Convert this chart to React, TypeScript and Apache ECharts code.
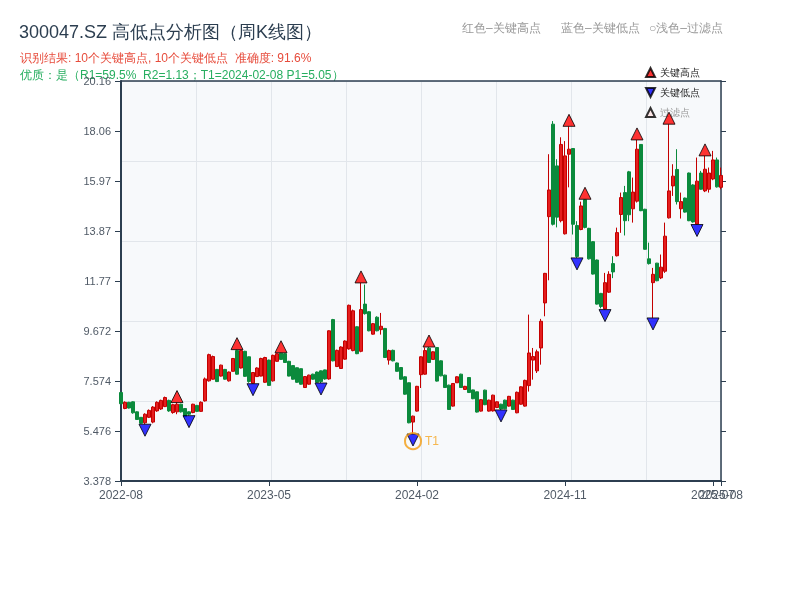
import React, { useEffect, useRef } from 'react';
import * as echarts from 'echarts';

const dates = [
  '2022-08-26','2022-09-02','2022-09-09','2022-09-16','2022-09-23','2022-09-30','2022-10-14','2022-10-21','2022-10-28','2022-11-04',
  '2022-11-11','2022-11-18','2022-11-25','2022-12-02','2022-12-09','2022-12-16','2022-12-23','2022-12-30','2023-01-06','2023-01-13',
  '2023-01-20','2023-02-03','2023-02-10','2023-02-17','2023-02-24','2023-03-03','2023-03-10','2023-03-17','2023-03-24','2023-03-31',
  '2023-04-07','2023-04-14','2023-04-21','2023-04-28','2023-05-05','2023-05-12','2023-05-19','2023-05-26','2023-06-02','2023-06-09',
  '2023-06-16','2023-06-21','2023-06-30','2023-07-07','2023-07-14','2023-07-21','2023-07-28','2023-08-04','2023-08-11','2023-08-18',
  '2023-08-25','2023-09-01','2023-09-08','2023-09-15','2023-09-22','2023-09-28','2023-10-13','2023-10-20','2023-10-27','2023-11-03',
  '2023-11-10','2023-11-17','2023-11-24','2023-12-01','2023-12-08','2023-12-15','2023-12-22','2023-12-29','2024-01-05','2024-01-12',
  '2024-01-19','2024-01-26','2024-02-02','2024-02-08','2024-02-23','2024-03-01','2024-03-08','2024-03-15','2024-03-22','2024-03-29',
  '2024-04-03','2024-04-12','2024-04-19','2024-04-26','2024-04-30','2024-05-10','2024-05-17','2024-05-24','2024-05-31','2024-06-07',
  '2024-06-14','2024-06-21','2024-06-28','2024-07-05','2024-07-12','2024-07-19','2024-07-26','2024-08-02','2024-08-09','2024-08-16',
  '2024-08-23','2024-08-30','2024-09-06','2024-09-13','2024-09-20','2024-09-27','2024-09-30','2024-10-11','2024-10-18','2024-10-25',
  '2024-11-01','2024-11-08','2024-11-15','2024-11-22','2024-11-29','2024-12-06','2024-12-13','2024-12-20','2024-12-27','2025-01-03',
  '2025-01-10','2025-01-17','2025-01-24','2025-01-27','2025-02-07','2025-02-14','2025-02-21','2025-02-28','2025-03-07','2025-03-14',
  '2025-03-21','2025-03-28','2025-04-03','2025-04-11','2025-04-18','2025-04-25','2025-04-30','2025-05-09','2025-05-16','2025-05-23',
  '2025-05-30','2025-06-06','2025-06-13','2025-06-20','2025-06-27','2025-07-04','2025-07-11','2025-07-18','2025-07-25','2025-08-01',
  '2025-08-08'
];

const openP = [
  7.09,6.42,6.68,6.70,6.28,6.05,5.82,6.05,5.85,6.32,
  6.40,6.50,6.76,6.25,6.28,6.60,6.42,6.28,6.25,6.55,
  6.30,6.74,7.58,7.65,8.06,7.78,8.06,7.58,7.98,8.85,
  8.12,8.82,8.59,7.48,7.76,7.78,7.52,8.45,7.58,8.40,
  8.74,8.72,8.40,8.22,8.13,8.09,7.30,7.44,7.86,7.95,
  8.00,8.04,7.66,10.15,8.18,8.10,8.49,8.92,8.85,9.85,
  8.82,10.80,10.48,9.54,10.25,9.73,9.78,8.45,8.86,8.33,
  8.14,7.75,7.50,5.85,6.31,7.84,7.86,8.95,8.48,8.98,
  8.42,7.82,7.40,6.52,7.50,7.86,7.22,7.72,7.20,7.12,
  6.31,7.19,6.31,6.32,6.46,6.60,6.77,6.52,6.77,6.24,
  6.60,6.52,7.38,8.45,8.00,8.96,10.85,14.47,18.35,16.60,
  14.30,13.75,17.09,17.33,14.10,13.93,15.18,13.98,13.42,12.65,
  11.25,10.60,11.30,12.50,12.83,14.56,15.48,16.35,14.80,15.12,
  17.50,14.78,12.70,11.70,12.52,11.90,12.18,14.42,15.76,16.45,
  14.80,15.25,16.30,15.80,14.16,16.30,15.55,15.62,16.05,16.85,
  15.70
];

const closeP = [
  6.62,6.68,6.44,6.24,5.96,5.80,6.18,6.34,6.48,6.68,
  6.76,6.88,6.32,6.58,6.60,6.28,6.08,6.18,6.60,6.30,
  6.68,7.66,8.68,8.60,7.55,8.24,7.65,7.95,8.52,7.86,
  8.85,7.77,7.55,7.93,8.12,8.52,8.56,7.39,8.65,8.72,
  8.48,8.35,7.78,7.65,7.52,7.44,7.76,7.82,7.65,7.52,
  7.55,7.66,9.68,8.42,8.86,9.00,9.25,10.75,10.52,8.72,
  10.57,10.40,9.68,9.98,9.68,9.87,8.56,8.85,8.42,7.98,
  7.65,7.02,5.82,6.10,7.35,8.59,8.85,8.35,8.80,7.57,
  7.79,7.30,6.38,7.47,7.75,7.30,7.35,7.09,6.83,6.27,
  6.79,6.58,6.77,6.98,6.70,6.40,6.41,6.93,6.38,7.10,
  7.33,7.60,8.75,8.60,8.80,10.08,12.09,15.59,14.15,14.45,
  17.50,17.02,17.30,14.15,12.80,14.92,14.02,12.70,12.06,10.80,
  10.70,11.70,12.05,12.15,13.80,15.27,14.30,14.55,15.50,17.30,
  14.72,13.10,12.50,12.05,11.78,12.35,13.65,15.55,16.17,15.10,
  15.10,14.66,14.30,14.25,15.96,15.62,16.46,16.30,16.85,15.72,
  16.20
];

const lowP = [
  6.60,6.39,6.42,6.20,5.94,5.78,5.76,6.02,5.80,6.28,
  6.36,6.48,6.28,6.20,6.18,6.25,6.14,6.12,6.22,6.28,
  6.28,6.71,7.55,7.63,7.53,7.76,7.63,7.55,7.97,7.84,
  8.10,7.75,7.50,7.46,7.74,7.77,7.50,7.37,7.55,8.38,
  8.47,8.33,7.77,7.63,7.50,7.42,7.28,7.42,7.63,7.50,
  7.49,7.63,7.63,8.40,8.16,8.08,8.47,8.89,8.82,8.70,
  8.78,10.36,9.66,9.52,9.66,9.52,8.54,8.26,8.40,7.97,
  7.63,7.00,5.80,5.35,6.29,7.28,7.84,8.33,8.47,7.55,
  7.77,7.28,6.36,6.50,7.49,7.28,7.21,7.07,6.81,6.25,
  6.29,6.56,6.29,6.29,6.44,6.36,6.39,6.50,6.36,6.22,
  6.58,6.50,7.13,7.63,7.91,8.26,10.29,11.80,14.10,14.02,
  14.23,13.72,15.70,13.72,12.74,13.90,13.98,12.67,12.04,10.78,
  10.62,10.57,11.27,11.89,12.80,13.79,13.68,14.28,14.22,15.06,
  14.70,13.09,12.46,10.22,11.76,11.85,12.11,14.39,15.34,14.98,
  14.39,14.64,14.28,14.22,14.14,15.60,15.50,15.48,16.00,15.69,
  15.62
];

const highP = [
  7.12,6.72,6.70,6.72,6.30,6.06,6.22,6.38,6.52,6.72,
  6.79,6.92,6.79,6.62,6.67,6.62,6.44,6.30,6.62,6.57,
  6.72,7.72,8.72,8.64,8.08,8.26,8.08,7.97,8.54,8.89,
  8.87,8.84,8.60,7.95,8.15,8.55,8.59,8.47,8.68,8.74,
  8.76,8.74,8.42,8.24,8.14,8.10,7.78,7.84,7.88,7.97,
  8.02,8.05,9.70,10.18,8.89,9.03,9.28,10.78,10.57,9.87,
  11.69,11.62,10.50,10.01,10.29,10.43,9.80,8.89,8.89,8.35,
  8.16,7.77,7.51,6.12,7.37,8.61,8.98,9.00,8.82,8.98,
  8.44,7.84,7.42,7.49,7.77,7.88,7.37,7.74,7.21,7.13,
  6.81,7.21,6.79,7.00,6.72,6.62,6.79,6.95,6.79,7.13,
  7.35,7.63,10.36,8.96,8.89,10.18,12.11,17.09,18.48,16.88,
  17.80,17.64,18.26,17.33,14.28,15.10,15.20,14.00,13.44,12.67,
  11.27,12.11,12.18,12.81,14.01,15.48,15.76,16.39,16.11,17.69,
  17.51,14.80,13.38,12.32,12.53,12.88,14.22,18.35,16.67,17.30,
  15.48,15.27,16.32,15.83,16.95,16.39,17.02,16.53,17.23,16.95,
  16.53
];

const keyHighIdx = [14, 29, 40, 60, 77, 112, 116, 129, 137, 146];
const keyLowIdx = [6, 17, 33, 50, 73, 95, 114, 121, 133, 144];
const t1Idx = 73;
const p1Value = 5.05;

const yTickLabels = ['3.378', '5.476', '7.574', '9.672', '11.77', '13.87', '15.97', '18.06', '20.16'];
const yMin = 3.378;
const yMax = 20.162;
const xLabelIdx = [0, 37, 74, 111, 148];
const xLastIdx = 150;

const titleText = '300047.SZ 高低点分析图（周K线图）';
const line1 = '识别结果: 10个关键高点, 10个关键低点  准确度: 91.6%';
const line2 = '优质：是（R1=59.5%  R2=1.13；T1=2024-02-08 P1=5.05）';

export default function App() {
  const ref = useRef<HTMLDivElement>(null);
  useEffect(() => {
    const chart = echarts.init(ref.current as HTMLDivElement, null, { renderer: 'svg' });
    const candles = dates.map((_, i) => [openP[i], closeP[i], lowP[i], highP[i]]);
    const highPts = keyHighIdx.map((i) => [i, highP[i]]);
    const lowPts = keyLowIdx.map((i) => [i, lowP[i]]);
    const showIdx = (i: number) => xLabelIdx.indexOf(i) >= 0;
    const axisColor = '#2c3e50';
    const gridLine = '#e2e6eb';
    const labelColor = '#505a66';
    const option: any = {
      animation: false,
      title: {
        text: titleText,
        left: 14,
        top: 18,
        textStyle: { fontSize: 18, fontWeight: 'normal', color: '#2c3e50' },
      },
      graphic: [
        { type: 'text', left: 20, top: 52, style: { text: line1, fill: '#e74c3c', fontSize: 12 } },
        { type: 'text', left: 20, top: 69, style: { text: line2, fill: '#27ae60', fontSize: 12 } },
        { type: 'text', left: 462, top: 22, style: { text: '红色–关键高点', fill: '#999', fontSize: 12 } },
        { type: 'text', left: 561, top: 22, style: { text: '蓝色–关键低点', fill: '#999', fontSize: 12 } },
        { type: 'text', left: 649, top: 22, style: { text: '○浅色–过滤点', fill: '#999', fontSize: 12 } },
      ],
      legend: {
        orient: 'vertical',
        left: 640,
        top: 62,
        itemWidth: 9,
        itemHeight: 9,
        itemGap: 9,
        textStyle: { fontSize: 10, color: '#222' },
        data: [
          { name: '关键高点', icon: 'triangle' },
          { name: '关键低点', icon: 'path://M0,0 L10,0 L5,10 Z' },
          { name: '过滤点', icon: 'triangle', textStyle: { color: '#999' } },
        ],
      },
      grid: {
        left: 121,
        right: 79,
        top: 81,
        bottom: 119,
        show: true,
        backgroundColor: '#f7f9fb',
        borderWidth: 0,
      },
      xAxis: [
        {
          type: 'category',
          data: dates,
          boundaryGap: false,
          position: 'bottom',
          axisLine: { lineStyle: { color: axisColor, width: 2 } },
          axisTick: { interval: (i: number) => showIdx(i) || i === xLastIdx, lineStyle: { color: axisColor } },
          axisLabel: {
            interval: (i: number) => showIdx(i),
            formatter: (v: string) => v.slice(0, 7),
            color: labelColor,
            fontSize: 12,
          },
          splitLine: { show: false },
        },
        {
          type: 'value',
          position: 'top',
          min: 0,
          max: 8,
          interval: 1,
          axisLine: { show: true, onZero: false, lineStyle: { color: axisColor, width: 1.5 } },
          axisTick: { show: false },
          axisLabel: { show: false },
          splitLine: { show: true, lineStyle: { color: gridLine } },
        },
        {
          type: 'category',
          data: dates,
          boundaryGap: false,
          position: 'bottom',
          axisLine: { show: false },
          axisTick: { show: false },
          axisLabel: {
            interval: (i: number) => i === xLastIdx,
            formatter: (v: string) => v.slice(0, 7),
            color: labelColor,
            fontSize: 12,
            showMaxLabel: true,
          },
          splitLine: { show: false },
        },
      ],
      yAxis: [
        { type: 'value', position: 'left', min: yMin, max: yMax, show: false },
        {
          type: 'value',
          position: 'left',
          min: 0,
          max: 8,
          interval: 1,
          axisLine: { show: true, onZero: false, lineStyle: { color: axisColor, width: 2 } },
          axisTick: { show: true, length: 6, lineStyle: { color: axisColor } },
          axisLabel: {
            formatter: (v: number) => yTickLabels[Math.round(v)],
            color: labelColor,
            fontSize: 11,
            margin: 10,
          },
          splitLine: { show: false },
        },
        {
          type: 'value',
          position: 'right',
          min: 0,
          max: 8,
          interval: 1,
          axisLine: { show: true, onZero: false, lineStyle: { color: axisColor, width: 1.5 } },
          axisTick: { show: true, length: 5, lineStyle: { color: axisColor } },
          axisLabel: { show: false },
          splitLine: { show: false },
        },
        {
          type: 'value',
          position: 'right',
          min: 0,
          max: 5,
          interval: 1,
          axisLine: { show: false },
          axisTick: { show: false },
          axisLabel: { show: false },
          splitLine: { show: true, lineStyle: { color: gridLine } },
        },
      ],
      series: [
        {
          type: 'candlestick',
          name: 'K线',
          xAxisIndex: 0,
          yAxisIndex: 0,
          barWidth: 2.8,
          data: candles,
          itemStyle: {
            color: '#e41e1e',
            color0: '#0b8a3c',
            borderColor: '#c40000',
            borderColor0: '#0b8a3c',
            borderWidth: 1,
          },
          z: 3,
        },
        {
          type: 'scatter',
          name: '关键高点',
          xAxisIndex: 0,
          yAxisIndex: 0,
          symbol: 'triangle',
          symbolSize: [12, 12],
          symbolOffset: [0, -6],
          data: highPts,
          itemStyle: { color: '#ff0000', borderColor: '#000', borderWidth: 1 },
          z: 5,
        },
        {
          type: 'scatter',
          name: '关键低点',
          xAxisIndex: 0,
          yAxisIndex: 0,
          symbol: 'triangle',
          symbolRotate: 180,
          symbolSize: [12, 12],
          symbolOffset: [0, 6],
          data: lowPts,
          itemStyle: { color: '#0000ff', borderColor: '#000', borderWidth: 1 },
          z: 5,
        },
        {
          type: 'scatter',
          name: '过滤点',
          xAxisIndex: 0,
          yAxisIndex: 0,
          symbol: 'triangle',
          symbolSize: 8,
          data: [],
          itemStyle: { color: '#ffe4e4', borderColor: '#000', borderWidth: 1 },
        },
        {
          type: 'scatter',
          name: 'T1',
          xAxisIndex: 0,
          yAxisIndex: 0,
          symbol: 'circle',
          symbolSize: 16,
          data: [[t1Idx, p1Value]],
          itemStyle: { color: 'rgba(0,0,0,0)', borderColor: '#f39c12', borderWidth: 2 },
          label: { show: true, formatter: 'T1', position: 'right', distance: 3, color: '#f5a623', fontSize: 12 },
          z: 6,
        },
      ],
    };
    chart.setOption(option);
    return () => chart.dispose();
  }, []);
  return <div ref={ref} style={{ position: 'fixed', left: 0, top: 0, width: 800, height: 600 }} />;
}
